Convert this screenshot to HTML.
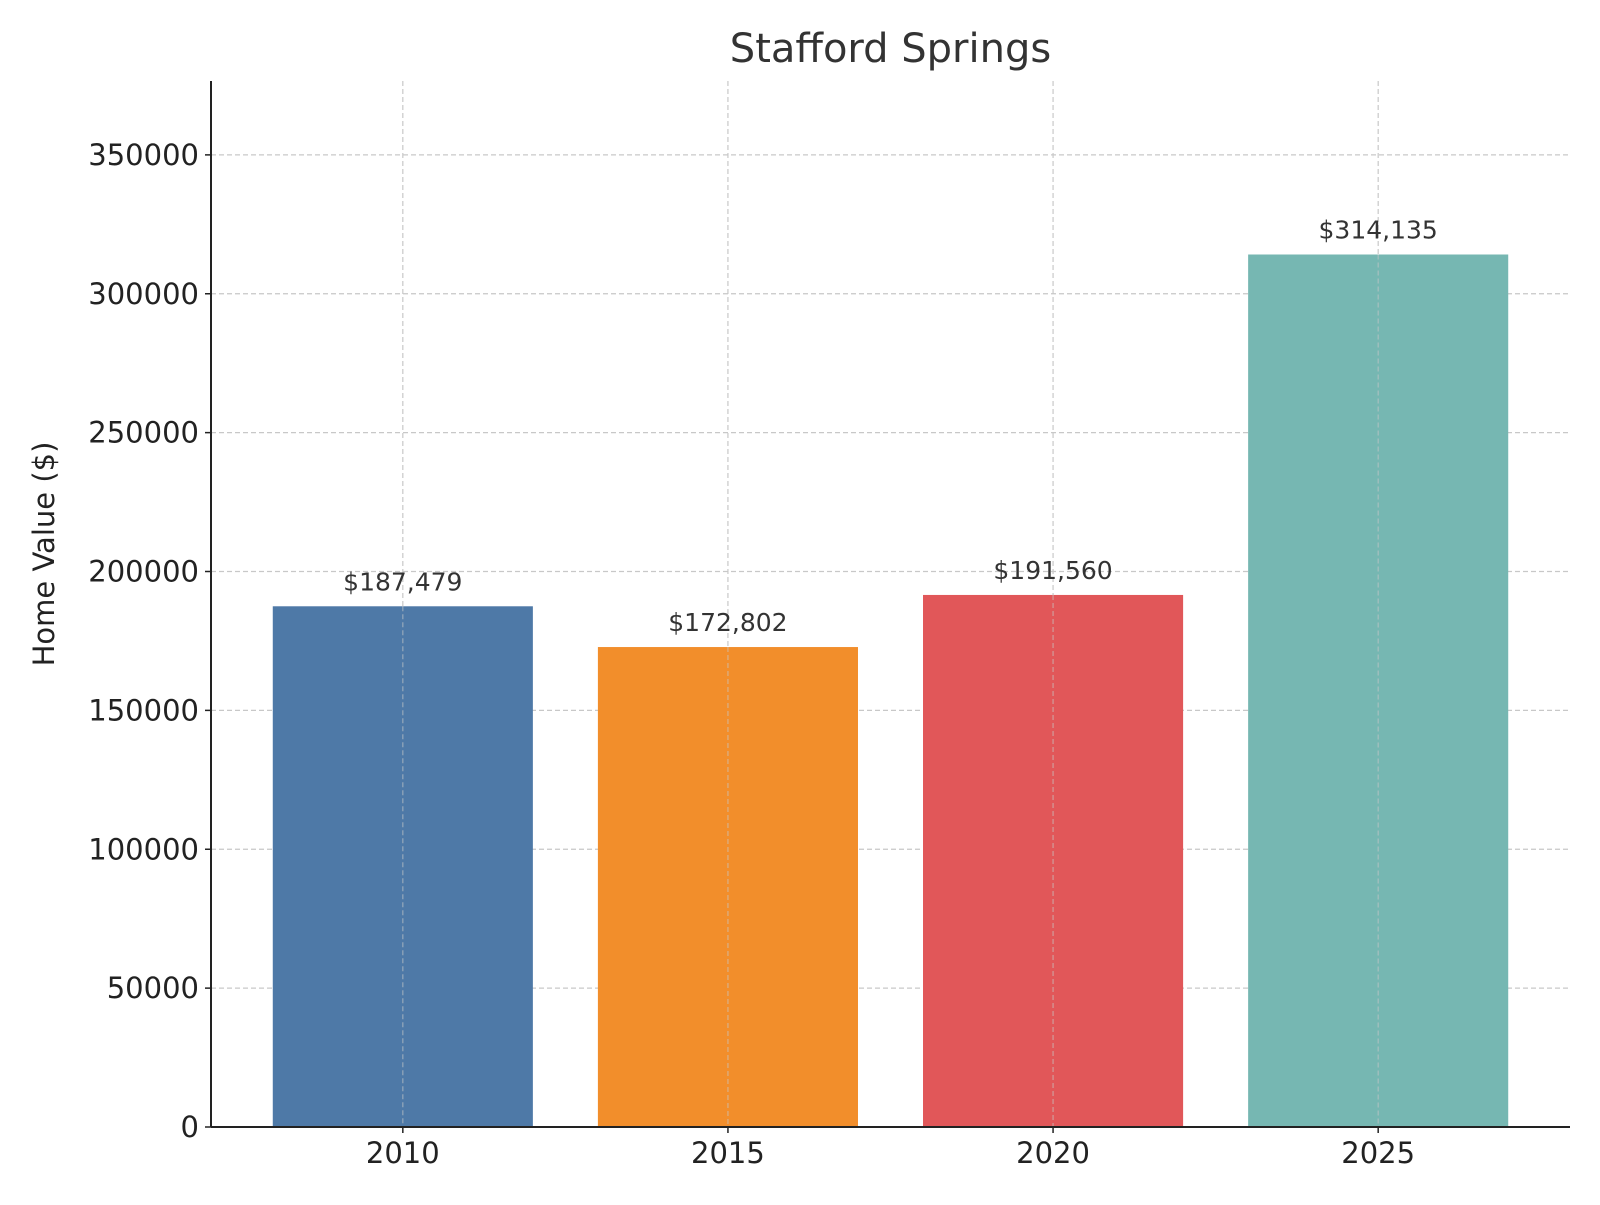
<!DOCTYPE html>
<html><head><meta charset="utf-8"><style>
body{margin:0;background:#fff;}
svg text{font-family:"DejaVu Sans","Liberation Sans",sans-serif;}
</style></head><body>
<svg id="chart" width="1600" height="1200" xmlns="http://www.w3.org/2000/svg"></svg>
<script>
const categories = ["2010","2015","2020","2025"];
const values = [187479,172802,191560,314135];
const valueLabels = ["$187,479","$172,802","$191,560","$314,135"];
const colors = ["#4e79a7","#f28e2b","#e15759","#76b7b2"];
const yTicks = [0,50000,100000,150000,200000,250000,300000,350000];

const svg=document.getElementById('chart');
const NS="http://www.w3.org/2000/svg";
const L=211,R=1570,T=81,B=1127,yMax=376600;
const xmin=-0.59,xmax=categories.length-1+0.59;
const x=i=>L+(i-xmin)/(xmax-xmin)*(R-L);
const y=v=>B-v/yMax*(B-T);
const bw=0.8*(R-L)/(xmax-xmin);
function el(tag,attrs,text){const e=document.createElementNS(NS,tag);for(const k in attrs)e.setAttribute(k,attrs[k]);if(text!==undefined)e.textContent=text;svg.appendChild(e);return e;}

yTicks.forEach(t=>{
  const g=el('line',{x1:L,x2:R,y1:y(t),y2:y(t),stroke:'#c8c8c8','stroke-width':1.2,'stroke-dasharray':'5,3'});
  
  
  const lb=el('text',{x:L-12,y:y(t)+10,'text-anchor':'end','font-size':29,fill:'#222'},String(t));
  
  
  const tk=el('line',{x1:L-6,x2:L,y1:y(t),y2:y(t),stroke:'#222','stroke-width':1.5});
  
  
});
categories.forEach((c,i)=>{
  const g=el('line',{x1:x(i),x2:x(i),y1:T,y2:B,stroke:'#c8c8c8','stroke-width':1.2,'stroke-dasharray':'5,3'});
  
  
});
categories.forEach((c,i)=>{
  const b=el('rect',{x:x(i)-bw/2,y:y(values[i]),width:bw,height:B-y(values[i]),fill:colors[i]});
  
  
  const vg=el('line',{x1:x(i),x2:x(i),y1:y(values[i]),y2:B,stroke:'#c8c8c8','stroke-width':1.2,'stroke-dasharray':'5,3','stroke-opacity':0.6});
  
  
  const v=el('text',{x:x(i),y:y(values[i])-16,'text-anchor':'middle','font-size':25,fill:'#333'},valueLabels[i]);
  
  
  const lb=el('text',{x:x(i),y:B+36,'text-anchor':'middle','font-size':29,fill:'#222'},c);
  
  
  const tk=el('line',{x1:x(i),x2:x(i),y1:B,y2:B+6,stroke:'#222','stroke-width':1.5});
  
  
});
const ax=el('line',{x1:L,x2:L,y1:T,y2:B,stroke:'#222','stroke-width':2});


const axb=el('line',{x1:L,x2:R,y1:B,y2:B,stroke:'#222','stroke-width':2});


const t=el('text',{x:(L+R)/2,y:62,'text-anchor':'middle','font-size':40,fill:'#333'},'Stafford Springs');


const yl=el('text',{x:0,y:0,'text-anchor':'middle','font-size':29,fill:'#222',transform:'translate(54,'+((T+B)/2-50)+') rotate(-90)'},'Home Value ($)');


</script>
</body></html>
